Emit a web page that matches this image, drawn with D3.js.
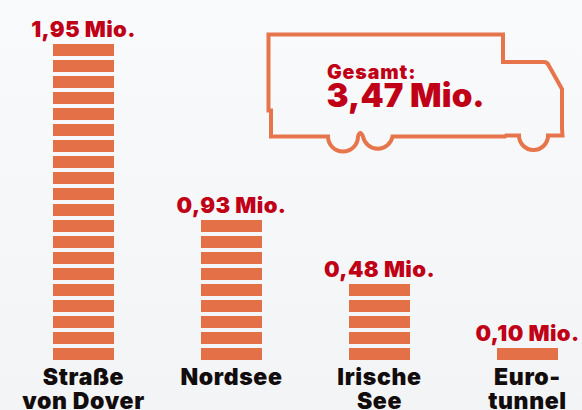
<!DOCTYPE html>
<html><head><meta charset="utf-8">
<script src="https://cdn.jsdelivr.net/npm/d3@7"></script>
<style>html,body{margin:0;padding:0;background:#f5f6f8}svg{display:block}text{font-family:Inter,"Open Sans",sans-serif}</style>
</head><body><svg id="c" width="582" height="410"></svg>
<script>
const categories = [["Straße","von Dover"],["Nordsee"],["Irische","See"],["Euro-","tunnel"]];
const valueLabels = ["1,95 Mio.","0,93 Mio.","0,48 Mio.","0,10 Mio."];
const bricks = [20,9,5,1];
const totalLabel = "Gesamt:";
const totalValue = "3,47 Mio.";

const svg = d3.select("#c");
const defs = svg.append("defs");
const g = defs.append("linearGradient").attr("id","bg").attr("x1",0).attr("y1",0).attr("x2",0).attr("y2",1);
g.append("stop").attr("offset",0).attr("stop-color","#f9fafc");
g.append("stop").attr("offset",1).attr("stop-color","#f3f4f6");
svg.append("rect").attr("width",582).attr("height",410).attr("fill","url(#bg)");

const x = d3.scaleBand().domain(d3.range(categories.length)).range([53,558]).paddingInner(87/148).paddingOuter(0);
const y = d3.scaleLinear().domain([0,20]).range([364,44]);

const col = svg.selectAll("g.col").data(categories).join("g").attr("class","col");
col.each(function(d,i){
  const s = d3.select(this);
  s.selectAll("rect").data(d3.range(bricks[i])).join("rect")
    .attr("x",x(i)).attr("width",x.bandwidth())
    .attr("y",k=>y(k+1)).attr("height",12)
    .attr("fill","#e37046");
  s.append("text").attr("x",x(i)+x.bandwidth()/2).attr("y",y(bricks[i])-7)
    .attr("text-anchor","middle").attr("font-size",22).attr("font-weight",900)
    .attr("letter-spacing",0.4).attr("fill","#bf0016").text(valueLabels[i]);
  d.forEach((t,j)=>{
    s.append("text").attr("x",x(i)+x.bandwidth()/2).attr("y",385+j*24)
      .attr("text-anchor","middle").attr("font-size",23).attr("font-weight",900)
      .attr("letter-spacing",0.65).attr("fill","#120c0d").text(t);
  });
});

svg.append("path")
 .attr("d","M268.5 34.5H503V62H544Q547 62 548.5 65L562 89V128.5L562.5 135.5H548A14.5 14.5 0 0 1 519 135.5H506L505 136.5H392.5A15 15 0 0 1 363 136.5Q361.5 133 360.5 133Q359 133 358 136.5A15 15 0 0 1 328 136.5H271V110.5H268.5Z")
 .attr("fill","none").attr("stroke","#e7754c").attr("stroke-width",4);

svg.append("text").attr("x",327).attr("y",78.5).attr("font-size",19.5).attr("font-weight",900).attr("letter-spacing",0.9).attr("fill","#bf0016").text(totalLabel);
svg.append("text").attr("x",326.5).attr("y",107).attr("font-size",33).attr("font-weight",900).attr("letter-spacing",0.1).attr("fill","#bf0016").text(totalValue);
</script></body></html>
